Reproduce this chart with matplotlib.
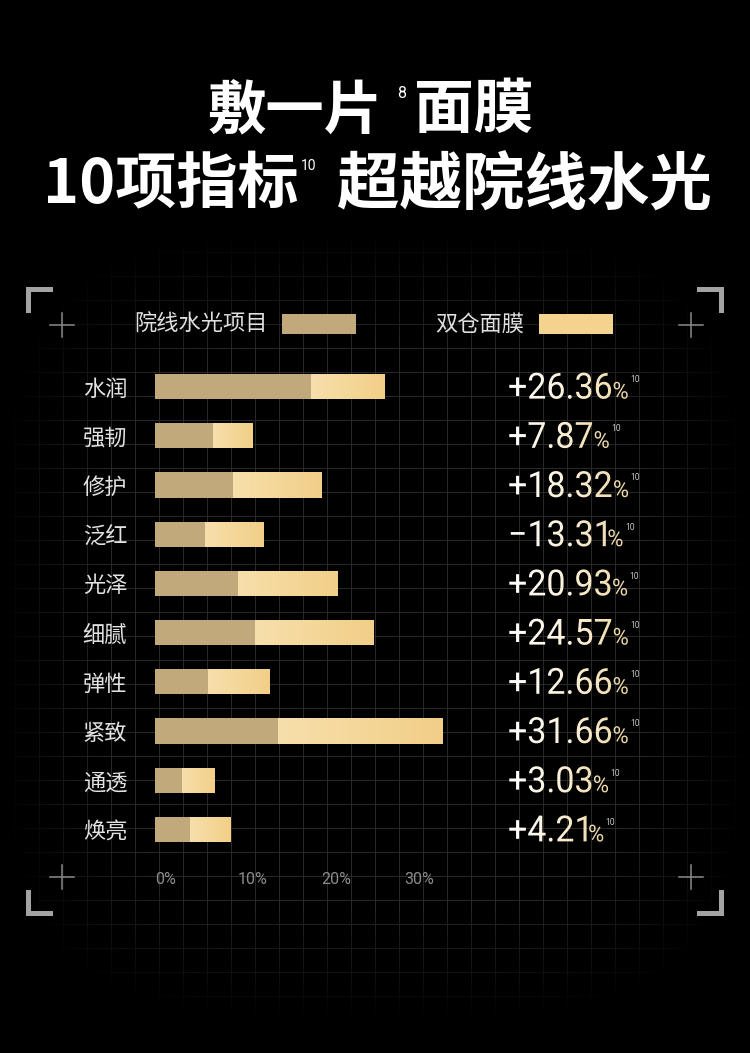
import numpy as np
import matplotlib
matplotlib.use("Agg")
import matplotlib.pyplot as plt
from matplotlib.textpath import TextPath
from matplotlib.font_manager import FontProperties
from matplotlib.patches import PathPatch, Rectangle
from matplotlib.path import Path
from matplotlib.transforms import Affine2D
from matplotlib.colors import LinearSegmentedColormap

# ------------------------------------------------------------------
# data
# ------------------------------------------------------------------
categories = ["水润", "强韧", "修护", "泛红", "光泽", "细腻", "弹性", "紧致", "通透", "焕亮"]
series_names = ["院线水光项目", "双仓面膜"]
clinic = [18.8, 7.0, 9.4, 6.0, 10.0, 12.0, 6.4, 14.8, 3.3, 4.2]      # 院线水光项目
mask_extra = [8.8, 4.8, 10.7, 7.0, 12.0, 14.3, 7.4, 19.8, 3.9, 4.9]  # 双仓面膜 (stacked on top)
improve = [26.36, 7.87, 18.32, -13.31, 20.93, 24.57, 12.66, 31.66, 3.03, 4.21]
xticks = [0, 10, 20, 30]
xtick_labels = ["0%", "10%", "20%", "30%"]

# ------------------------------------------------------------------
# style
# ------------------------------------------------------------------
W, H = 750, 1053
CJK = ["Noto Sans CJK SC", "DejaVu Sans"]
NUM = ["Roboto", "DejaVu Sans"]
C_CLINIC = "#c2a97c"
C_MASK = "#f4d38f"
PX_PER_UNIT = 8.3

plt.rcParams["font.family"] = CJK

fig = plt.figure(figsize=(W / 100, H / 100), dpi=100, facecolor="black")

# background axes in pixel coordinates (y down)
bg = fig.add_axes([0, 0, 1, 1])
bg.axis("off")
bg.set_autoscale_on(False)
bg.set_xlim(0, W)
bg.set_ylim(H, 0)

# faint grid that fades towards the edges
yy, xx = np.mgrid[0:H, 0:W]
lines = (((xx - 15) % 24) == 0) | (((yy - 276) % 24) == 0)
d = (np.abs((xx - 375) / 375.0) ** 4 + np.abs((yy - 625) / 395.0) ** 4) ** 0.25
fade = np.clip((1.0 - d) / 0.3, 0, 1)
grid_img = lines * fade * 0.16
bg.imshow(grid_img, cmap="gray", vmin=0, vmax=1, extent=(0, W, H, 0),
          interpolation="nearest", aspect="auto", zorder=0)

# corner brackets and plus marks
gray = "#a3a3a3"
for cx, cy, sx, sy in [(26, 287, 1, 1), (724, 287, -1, 1), (26, 916, 1, -1), (724, 916, -1, -1)]:
    bg.add_patch(Rectangle((cx, cy), 27 * sx, 5 * sy, color=gray, lw=0, zorder=2))
    bg.add_patch(Rectangle((cx, cy), 5 * sx, 26 * sy, color=gray, lw=0, zorder=2))
for px, py in [(62, 325), (691, 325), (62, 877), (691, 877)]:
    bg.plot([px - 12, px + 12], [py, py], color="#8a8a8a", lw=1.1, zorder=2)
    bg.plot([px, px], [py - 12, py + 12], color="#8a8a8a", lw=1.1, zorder=2)

# ------------------------------------------------------------------
# title
# ------------------------------------------------------------------
tkw = dict(fontweight="bold", color="white", va="center")
bg.text(383, 111, "敷一片", ha="right", fontsize=42, **tkw)
bg.text(397, 94, "8", ha="left", va="center", fontsize=11.5, color="white", family=NUM)
bg.text(414, 111, "面膜", ha="left", fontsize=43, **tkw)
bg.text(299, 186, "10项指标", ha="right", fontsize=44, **tkw)
bg.text(301, 166, "10", ha="left", va="center", fontsize=10, color="white", family=NUM)
bg.text(337, 186, "超越院线水光", ha="left", fontsize=45, **tkw)

# legend
bg.text(268, 324, series_names[0], ha="right", va="center", fontsize=16, color="#e0e0e0")
bg.add_patch(Rectangle((282, 314), 74, 20, color=C_CLINIC, lw=0))
bg.text(524, 324, series_names[1], ha="right", va="center", fontsize=16, color="#e0e0e0")
bg.add_patch(Rectangle((539, 314), 74, 20, color=C_MASK, lw=0))

# ------------------------------------------------------------------
# bars
# ------------------------------------------------------------------
n = len(categories)
y = np.arange(n)
ax = fig.add_axes([155 / W, (H - 854) / H, 300 / W, 492 / H])
ax.set_facecolor("none")
b1 = ax.barh(y, clinic, height=0.51, color=C_CLINIC, zorder=3)
b2 = ax.barh(y, mask_extra, left=clinic, height=0.51, color=C_MASK, zorder=3)

grad = np.linspace(0, 1, 64).reshape(1, -1)
bar_cmap = LinearSegmentedColormap.from_list("bar", ["#f7dfab", "#f2cf88"])
for r in b2.patches:
    x0, y0 = r.get_x(), r.get_y()
    im = ax.imshow(grad, cmap=bar_cmap, extent=(x0, x0 + r.get_width(), y0 + r.get_height(), y0),
                   aspect="auto", zorder=4, interpolation="bilinear")
    im.set_clip_path(r)

ax.set_xlim(0, 300 / PX_PER_UNIT)
ax.set_ylim(n - 0.5, -0.5)
ax.set_xticks(xticks)
ax.set_xticklabels(xtick_labels, family=NUM, fontsize=11.5, color="#8c8c8c", ha="left")
ax.set_yticks(y)
ax.set_yticklabels(categories, fontsize=16, color="#e2e2e2")
ax.tick_params(length=0)
ax.tick_params(axis="x", pad=13)
ax.tick_params(axis="y", pad=20)
for s in ax.spines.values():
    s.set_visible(False)

# ------------------------------------------------------------------
# improvement values, gradient filled text
# ------------------------------------------------------------------
num_prop = FontProperties(family="Roboto", weight="normal")
val_cmap = LinearSegmentedColormap.from_list("val", ["#ffffff", "#fbf1da", "#edd6a3"])

for i, v in enumerate(improve):
    row_y = H - ax.transData.transform((0, i))[1]
    base = row_y + 12
    s = ("+" if v >= 0 else "\u2212") + f"{abs(v):.2f}"
    paths = []
    cur = 508
    for txt, size in [(s, 34), ("%", 22)]:
        tp = TextPath((0, 0), txt, size=size, prop=num_prop)
        ext = tp.get_extents()
        paths.append(Affine2D().scale(1, -1.06).translate(cur, base).transform_path(tp))
        cur += ext.x1 + 1.5
    patch = PathPatch(Path.make_compound_path(*paths), fc="none", ec="none")
    bg.add_patch(patch)
    im = bg.imshow(grad, cmap=val_cmap, extent=(508, cur, base + 6, base - 30),
                   aspect="auto", interpolation="bilinear", zorder=3)
    im.set_clip_path(patch)
    bg.text(cur + 1, base - 16.5, "10", fontsize=6.2, color="#c4c4c4", family=NUM,
            ha="left", va="baseline")

fig.savefig("out.png", dpi=100, facecolor="black")
